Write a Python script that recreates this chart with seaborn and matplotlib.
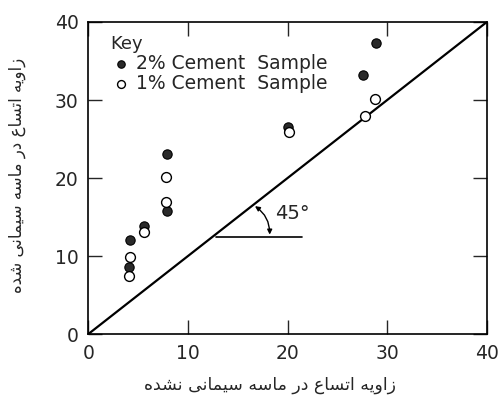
import matplotlib
matplotlib.use("Agg")
import matplotlib.pyplot as plt
import seaborn as sns
import pandas as pd

# data
cem2_x = [28.9, 27.6, 20.0, 7.9, 7.9, 5.6, 4.2, 4.1]
cem2_y = [37.3, 33.2, 26.5, 23.1, 15.8, 13.8, 12.0, 8.6]
cem1_x = [28.8, 27.8, 20.1, 7.8, 7.8, 5.6, 4.2, 4.1]
cem1_y = [30.1, 27.9, 25.9, 20.1, 16.9, 13.1, 9.9, 7.4]
diag_x = [0, 40]
diag_y = [0, 40]
ticks = [0, 10, 20, 30, 40]
tick_labels = ["0", "10", "20", "30", "40"]
ref_x = [12.8, 21.5]
ref_y = [12.4, 12.4]

xlabel_fa = "زاویه اتساع در ماسه سیمانی نشده"
ylabel_fa = "زاویه اتساع در ماسه سیمانی شده"

# minimal persian shaping (matplotlib has no rtl / joining support)
FORMS = {
    "ا": ("\uFE8D", "\uFE8E", None, None),
    "ت": ("\uFE95", "\uFE96", "\uFE97", "\uFE98"),
    "د": ("\uFEA9", "\uFEAA", None, None),
    "ر": ("\uFEAD", "\uFEAE", None, None),
    "ز": ("\uFEAF", "\uFEB0", None, None),
    "س": ("\uFEB1", "\uFEB2", "\uFEB3", "\uFEB4"),
    "ش": ("\uFEB5", "\uFEB6", "\uFEB7", "\uFEB8"),
    "ع": ("\uFEC9", "\uFECA", "\uFECB", "\uFECC"),
    "م": ("\uFEE1", "\uFEE2", "\uFEE3", "\uFEE4"),
    "ن": ("\uFEE5", "\uFEE6", "\uFEE7", "\uFEE8"),
    "ه": ("\uFEE9", "\uFEEA", "\uFEEB", "\uFEEC"),
    "و": ("\uFEED", "\uFEEE", None, None),
    "ی": ("\uFEEF", "\uFEF0", "\uFEF3", "\uFEF4"),
}


def shape(text):
    out = []
    for i, ch in enumerate(text):
        if ch not in FORMS:
            out.append(ch)
            continue
        iso, fin, ini, med = FORMS[ch]
        prev = text[i - 1] if i > 0 else ""
        nxt = text[i + 1] if i + 1 < len(text) else ""
        pj = prev in FORMS and FORMS[prev][2] is not None
        nj = nxt in FORMS and ini is not None
        if pj and nj:
            out.append(med)
        elif pj:
            out.append(fin)
        elif nj:
            out.append(ini)
        else:
            out.append(iso)
    return "".join(out)[::-1]


sns.set_style("ticks")
plt.rcParams["font.family"] = ["DejaVu Sans"]

df2 = pd.DataFrame({"x": cem2_x, "y": cem2_y})
df1 = pd.DataFrame({"x": cem1_x, "y": cem1_y})

fig = plt.figure(figsize=(5.04, 4.07), dpi=100)
ax = fig.add_axes([0.175, 0.179, 0.791, 0.767])

ax.plot(diag_x, diag_y, color="black", lw=1.6)
ax.plot(ref_x, ref_y, color="black", lw=1.2)
ax.annotate("", xy=(18.2, 12.4), xytext=(16.5, 16.6),
            arrowprops=dict(arrowstyle="<|-|>", color="black", lw=1.0,
                            mutation_scale=7,
                            connectionstyle="arc3,rad=-0.3"))
ax.text(18.7, 15.5, "45°", fontsize=14, va="center", ha="left")

sns.scatterplot(data=df2, x="x", y="y", ax=ax, color="#2a2a2a",
                edgecolor="black", s=45, linewidth=0.8,
                label="2% Cement  Sample", zorder=3)
sns.scatterplot(data=df1, x="x", y="y", ax=ax, color="white",
                edgecolor="black", s=50, linewidth=1.0,
                label="1% Cement  Sample", zorder=3)

ax.set_xlim(0, 40)
ax.set_ylim(0, 40)
ax.set_xticks(ticks)
ax.set_xticklabels(tick_labels)
ax.set_yticks(ticks)
ax.set_yticklabels(tick_labels)
ax.tick_params(direction="in", length=10, width=1.0, top=True, right=True,
               labelsize=13.5, pad=7)
ax.set_xlabel("")
ax.set_ylabel("")
for sp in ax.spines.values():
    sp.set_linewidth(1.2)
    sp.set_color("black")

leg = ax.legend(title="Key", loc="upper left", bbox_to_anchor=(0.045, 0.97),
                frameon=False, fontsize=13.5, title_fontsize=13,
                alignment="left", handletextpad=0.2, borderaxespad=0,
                labelspacing=0.05, borderpad=0.2, markerscale=0.8,
                handlelength=1.2)

fig.text(0.536, 0.054, shape(xlabel_fa), ha="center", va="center", fontsize=12.5)
fig.text(0.034, 0.568, shape(ylabel_fa), ha="center", va="center",
         fontsize=12, rotation=90)

fig.savefig("out.png", dpi=100)
